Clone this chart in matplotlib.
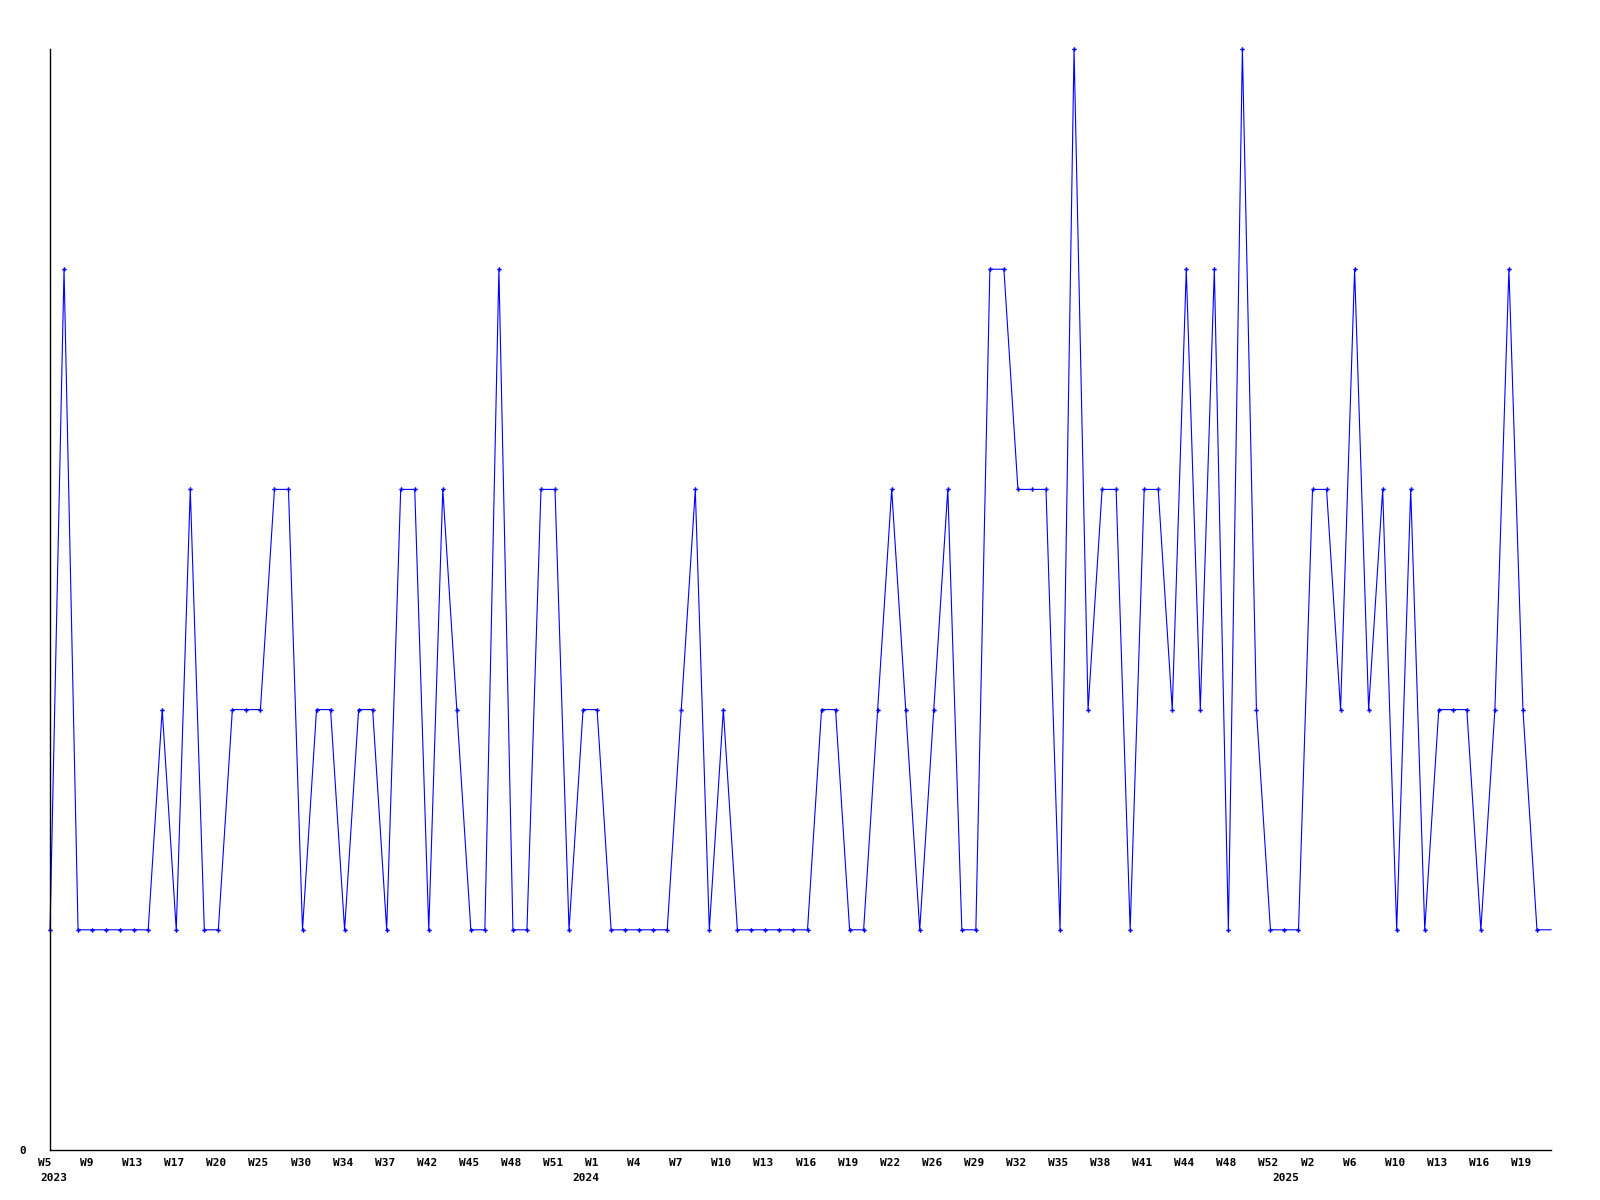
import matplotlib
matplotlib.use('Agg')
import matplotlib.pyplot as plt
import matplotlib.transforms as mtransforms
import numpy as np

# valores semanales (nivel 0..5), el ultimo punto solo prolonga la linea
valores = [1, 4, 1, 1, 1, 1, 1, 1, 2, 1, 3, 1, 1, 2, 2, 2, 3, 3, 1, 2, 2, 1, 2, 2, 1, 3, 3, 1,
           3, 2, 1, 1, 4, 1, 1, 3, 3, 1, 2, 2, 1, 1, 1, 1, 1, 2, 3, 1, 2, 1, 1, 1, 1, 1, 1,
           2, 2, 1, 1, 2, 3, 2, 1, 2, 3, 1, 1, 4, 4, 3, 3, 3, 1, 5, 2, 3, 3, 1, 3, 3, 2, 4,
           2, 4, 1, 5, 2, 1, 1, 1, 3, 3, 2, 4, 2, 3, 1, 3, 1, 2, 2, 2, 1, 2, 4, 2, 1,
           1]
semanas = ['W5', 'W9', 'W13', 'W17', 'W20', 'W25', 'W30', 'W34', 'W37', 'W42', 'W45', 'W48',
           'W51', 'W1', 'W4', 'W7', 'W10', 'W13', 'W16', 'W19', 'W22', 'W26', 'W29', 'W32',
           'W35', 'W38', 'W41', 'W44', 'W48', 'W52', 'W2', 'W6', 'W10', 'W13', 'W16', 'W19']
anios = ['2023', '2024', '2025']
anio_tick = [0, 39, 90]      # indice del punto donde empieza cada anio
anio_dx = [-10, -25, -40]    # desplazamiento en pixeles de la etiqueta

fuente = dict(family='DejaVu Sans Mono', weight='bold', size=8)

fig = plt.figure(figsize=(16, 12), dpi=100)
ax = fig.add_axes([50 / 1600, 50 / 1200, 1501 / 1600, 1101 / 1200])

x = np.arange(len(valores))
ax.plot(x, valores, color='#0000ff', lw=0.8, clip_on=False)
ax.plot(x[:-1], valores[:-1], ls='none', marker='P', ms=3.2, mew=0,
        color='#0000ff', clip_on=False)

ax.set_xlim(0, len(valores) - 1)
ax.set_ylim(0, 5)

for s in ('top', 'right'):
    ax.spines[s].set_visible(False)
for s in ('left', 'bottom'):
    ax.spines[s].set_linewidth(1.0)
    ax.spines[s].set_color('black')

ax.set_xticks(np.arange(0, 3 * len(semanas), 3))
ax.set_xticklabels(semanas, **fuente)
ax.set_yticks([0])
ax.set_yticklabels(['0'], **fuente)
ax.tick_params(axis='x', length=0, pad=5.5)
ax.tick_params(axis='y', length=0, pad=17)

desplaza = mtransforms.ScaledTranslation(-12 / 100, 0, fig.dpi_scale_trans)
for lab in ax.get_xticklabels():
    lab.set_horizontalalignment('left')
    lab.set_transform(lab.get_transform() + desplaza)

for texto, i, dx in zip(anios, anio_tick, anio_dx):
    ax.annotate(texto, xy=(i, 0), xycoords=('data', 'axes fraction'),
                xytext=(dx, -23), textcoords='offset pixels',
                ha='left', va='top', **fuente)

fig.savefig('out.png', dpi=100, facecolor='white')
